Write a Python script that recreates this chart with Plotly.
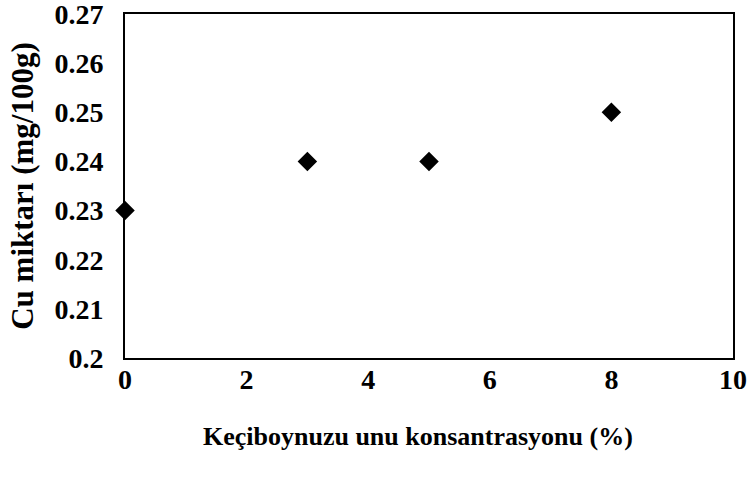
import plotly.graph_objects as go

x_conc = [0, 3, 5, 8]
cu_values = [0.23, 0.24, 0.24, 0.25]
x_ticks = [0, 2, 4, 6, 8, 10]
y_ticks = [0.2, 0.21, 0.22, 0.23, 0.24, 0.25, 0.26, 0.27]
y_tick_text = ["0.2", "0.21", "0.22", "0.23", "0.24", "0.25", "0.26", "0.27"]
x_title = "Keçiboynuzu unu konsantrasyonu (%)"
y_title = "Cu miktarı (mg/100g)"

font_family = "Liberation Serif"

fig = go.Figure()
fig.add_trace(go.Scatter(
    x=x_conc, y=cu_values, mode="markers",
    marker=dict(symbol="diamond", size=15, color="black"),
    cliponaxis=False, showlegend=False,
))

fig.add_annotation(
    text="<b>" + x_title + "</b>", xref="paper", yref="paper",
    x=(418 - 125) / 608, y=-79 / 345, xanchor="center", yanchor="middle",
    showarrow=False, font=dict(family=font_family, size=26, color="black"),
)

fig.update_layout(
    width=749, height=485,
    margin=dict(l=125, r=16, t=14, b=127, autoexpand=False),
    paper_bgcolor="white", plot_bgcolor="white",
    font=dict(family=font_family, color="black"),
    xaxis=dict(
        range=[0, 10], tickvals=x_ticks, ticktext=[str(v) for v in x_ticks],
        showgrid=False, zeroline=False, showline=True, linecolor="black", linewidth=2,
        mirror=True, ticks="", ticklabelstandoff=-5, automargin=False,
        ticklabeloverflow="allow",
        tickfont=dict(family=font_family, size=28, color="black", weight="bold"),
    ),
    yaxis=dict(
        range=[0.2, 0.27], tickvals=y_ticks, ticktext=y_tick_text,
        showgrid=False, zeroline=False, showline=True, linecolor="black", linewidth=2,
        mirror=True, ticks="", ticklabelstandoff=14, automargin=False,
        ticklabeloverflow="allow",
        tickfont=dict(family=font_family, size=28, color="black", weight="bold"),
        title=dict(text="<b>" + y_title + "</b>",
                   font=dict(family=font_family, size=31, color="black"), standoff=12),
    ),
)

fig.write_html("out.html", config={"displayModeBar": False},
               post_script="document.body.style.margin='0';document.body.style.overflow='hidden';")
